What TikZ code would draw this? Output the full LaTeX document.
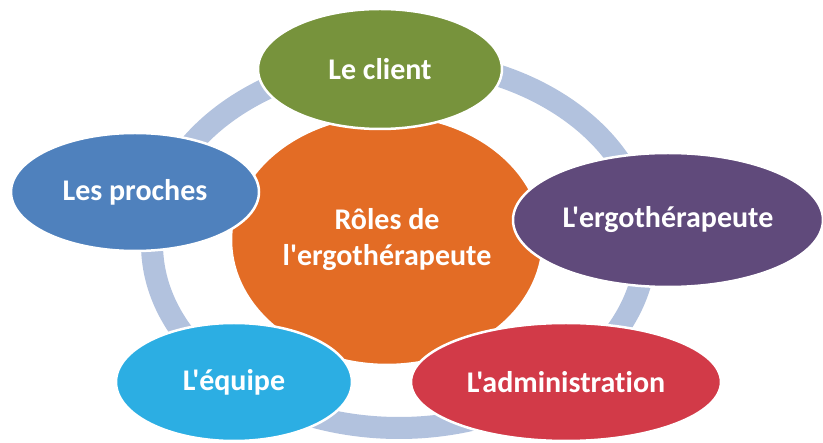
\documentclass[tikz,border=0pt]{standalone}
\usepackage{fontspec}
\newfontfamily\rolefont{Carlito}[Ligatures=NoCommon]
\usetikzlibrary{shapes.geometric}

\definecolor{ringblue}{HTML}{B2C2DE}
\definecolor{rolesorange}{HTML}{E36C25}
\definecolor{clientgreen}{HTML}{77933C}
\definecolor{ergopurple}{HTML}{604A7B}
\definecolor{adminred}{HTML}{D23A48}
\definecolor{equipecyan}{HTML}{2CAEE3}
\definecolor{prochesblue}{HTML}{4F81BD}

\tikzset{
  role/.style={ellipse, draw=white, line width=2.5pt, inner sep=0pt,
    text=white, align=center, font=\rolefont\fontsize{30}{36}\selectfont\bfseries}
}

\begin{document}
\begin{tikzpicture}[x=1pt,y=-1pt]
  \def\ringx{399}
  \def\ringy{244}
  \useasboundingbox (0,0) rectangle (823,443);

  % the cycle behind everything
  \draw [ringblue, line width=22pt] (\ringx,\ringy) ellipse [x radius=247pt, y radius=184pt];

  \node [role, fill=rolesorange, minimum width=312pt, minimum height=250pt] (roles) at (387,240) {Rôles de\\l'ergothérapeute};

  \node [role, fill=clientgreen, minimum width=244pt, minimum height=120pt] (client) at (380,69) {Le client};
  \node [role, fill=ergopurple, minimum width=310pt, minimum height=134pt] (ergo) at (668,220) {L'ergothérapeute};
  \node [role, fill=adminred, minimum width=310pt, minimum height=118pt] (admin) at (566,382) {L'administration};
  \node [role, fill=equipecyan, minimum width=236pt, minimum height=118pt] (equipe) at (234,382) {L'équipe};
  \node [role, fill=prochesblue, minimum width=248pt, minimum height=118pt] (proches) at (135,192) {Les proches};
\end{tikzpicture}
\end{document}
